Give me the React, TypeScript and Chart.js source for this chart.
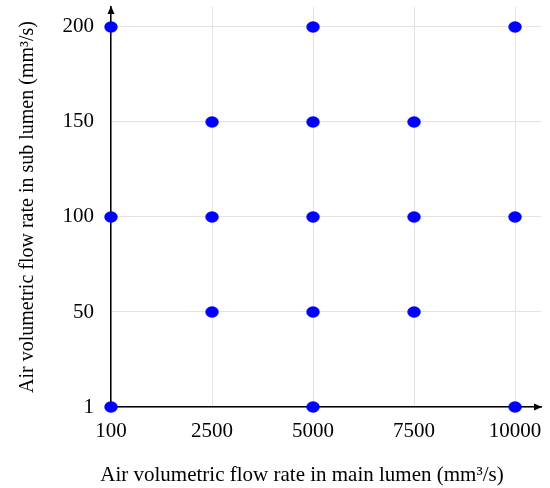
import React, { useEffect, useRef } from "react";
import { Chart, registerables } from "chart.js";

Chart.register(...registerables);

const xLabels = ["100", "2500", "5000", "7500", "10000"];
const yLabels = ["1", "50", "100", "150", "200"];

// measured points: [main lumen flow, sub lumen flow]
const pointsX = [100, 5000, 10000, 2500, 5000, 7500, 100, 2500, 5000, 7500, 10000, 2500, 5000, 7500, 100, 5000, 10000];
const pointsY = [200, 200, 200, 150, 150, 150, 100, 100, 100, 100, 100, 50, 50, 50, 1, 1, 1];

const xTitle = "Air volumetric flow rate in main lumen (mm³/s)";
const yTitle = "Air volumetric flow rate in sub lumen (mm³/s)";

const FAMILY = "'Liberation Serif', 'Times New Roman', serif";

function makeEllipse(): HTMLCanvasElement {
  const c = document.createElement("canvas");
  c.width = 14;
  c.height = 12;
  const ctx = c.getContext("2d")!;
  ctx.fillStyle = "#0000ff";
  ctx.beginPath();
  ctx.ellipse(7, 6, 6.7, 5.7, 0, 0, Math.PI * 2);
  ctx.fill();
  return c;
}

const arrowPlugin = {
  id: "arrows",
  afterDraw(chart: any) {
    const { ctx, chartArea } = chart;
    const { left, right, top, bottom } = chartArea;
    ctx.save();
    ctx.fillStyle = "#000";
    ctx.beginPath();
    ctx.moveTo(right + 1, bottom);
    ctx.lineTo(right - 7, bottom - 3.5);
    ctx.lineTo(right - 7, bottom + 3.5);
    ctx.closePath();
    ctx.fill();
    ctx.beginPath();
    ctx.moveTo(left, top - 1);
    ctx.lineTo(left - 3.5, top + 7);
    ctx.lineTo(left + 3.5, top + 7);
    ctx.closePath();
    ctx.fill();
    // x-axis title
    ctx.fillStyle = "#000";
    ctx.font = `21px ${FAMILY}`;
    ctx.textAlign = "center";
    ctx.textBaseline = "middle";
    ctx.fillText(xTitle, 302, 475);
    ctx.restore();
  },
};

export default function App() {
  const ref = useRef<HTMLCanvasElement>(null);
  useEffect(() => {
    if (!ref.current) return;
    const data = pointsX.map((v, i) => ({
      x: xLabels.indexOf(String(v)),
      y: yLabels.indexOf(String(pointsY[i])),
    }));
    const tickFont = { family: FAMILY, size: 21 };
    const titleFont = { family: FAMILY, size: 20 };
    const chart = new Chart(ref.current, {
      type: "scatter",
      data: {
        datasets: [
          {
            data,
            pointStyle: makeEllipse() as any,
            clip: false as any,
            backgroundColor: "#0000ff",
            borderWidth: 0,
          },
        ],
      },
      plugins: [arrowPlugin],
      options: {
        animation: false,
        responsive: false,
        layout: { padding: { left: 0, right: 9, top: 7, bottom: 0 } },
        plugins: { legend: { display: false }, tooltip: { enabled: false } },
        scales: {
          x: {
            type: "linear",
            min: 0,
            max: 4.257,
            afterBuildTicks: (s: any) => {
              s.ticks = xLabels.map((_, i) => ({ value: i }));
            },
            afterFit: (s: any) => {
              s.height = 81;
              s.paddingLeft = 0;
              s.paddingRight = 0;
            },
            ticks: {
              color: "#000",
              font: tickFont,
              padding: 12,
              maxRotation: 0,
              callback: (v: any) => xLabels[v as number] ?? "",
            },
            grid: { color: "#e3e3e3", lineWidth: 1, drawTicks: false },
            border: { color: "#000", width: 1.5 },
          },
          y: {
            type: "linear",
            min: 0,
            max: 4.21,
            afterBuildTicks: (s: any) => {
              s.ticks = yLabels.map((_, i) => ({ value: i }));
            },
            afterFit: (s: any) => {
              s.width = 111;
              s.paddingTop = 0;
              s.paddingBottom = 0;
            },
            ticks: {
              color: "#000",
              font: tickFont,
              padding: 17,
              callback: (v: any) => yLabels[v as number] ?? "",
            },
            grid: { color: "#e3e3e3", lineWidth: 1, drawTicks: false },
            border: { color: "#000", width: 1.5 },
            title: { display: true, text: yTitle, color: "#000", font: titleFont, padding: { top: 16, bottom: 0 } },
          },
        },
      },
    });
    return () => chart.destroy();
  }, []);
  return (
    <div style={{ position: "fixed", left: 0, top: 0, width: 550, height: 488 }}>
      <canvas ref={ref} width={550} height={488} />
    </div>
  );
}
